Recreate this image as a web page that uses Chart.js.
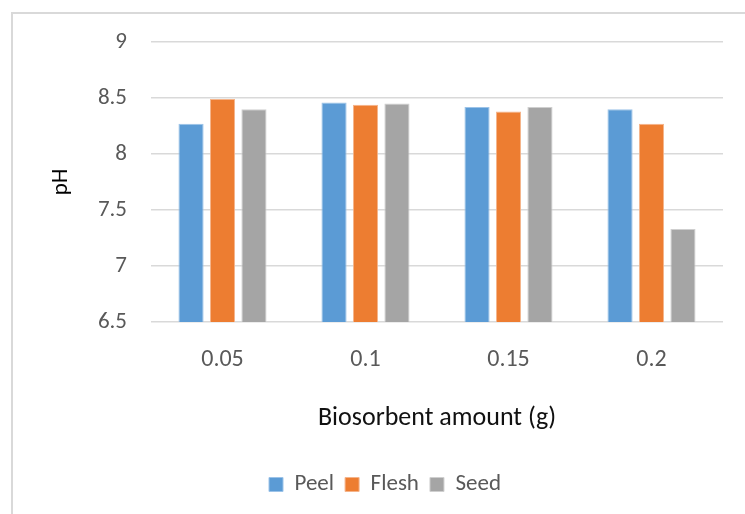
<!DOCTYPE html>
<html>
<head>
<meta charset="utf-8">
<script src="https://cdn.jsdelivr.net/npm/chart.js@4"></script>
<style>
  html, body { margin: 0; padding: 0; background: #fff; overflow: hidden; }
  #wrap { position: relative; width: 745px; height: 514px; }
  #frame {
    position: absolute; left: 11px; top: 12px; width: 800px; height: 600px;
    border: 2px solid #d9d9d9; box-sizing: border-box;
  }
  #chart { position: absolute; left: 0; top: 0; }
</style>
</head>
<body>
<div id="wrap">
  <div id="frame"></div>
  <canvas id="chart" width="745" height="514"></canvas>
</div>
<script>
// values
const amounts = ['0.05', '0.1', '0.15', '0.2'];
const peel = [8.27, 8.46, 8.42, 8.40];
const flesh = [8.49, 8.44, 8.38, 8.27];
const seed = [8.40, 8.45, 8.42, 7.33];
const yTicks = [6.5, 7, 7.5, 8, 8.5, 9];

const fontFamily = 'Carlito, Lato, sans-serif';

window.onload = function() {
	const ctx = document.getElementById('chart').getContext('2d');

	function makeSet(label, data, fill, edge) {
		return {
			label: label,
			data: data,
			backgroundColor: fill,
			borderColor: edge,
			borderWidth: 1,
			barPercentage: 0.8,
			categoryPercentage: 0.66
		};
	}

	new Chart(ctx, {
		type: 'bar',
		data: {
			labels: amounts,
			datasets: [
				makeSet('Peel', peel, '#5b9bd5', '#9cc3e8'),
				makeSet('Flesh', flesh, '#ed7d31', '#f5b48a'),
				makeSet('Seed', seed, '#a5a5a5', '#cfcfcf')
			]
		},
		options: {
			responsive: false,
			animation: false,
			layout: {
				padding: { left: 47, right: 22, top: 42, bottom: 8 }
			},
			plugins: {
				legend: {
					position: 'bottom',
					labels: {
						boxWidth: 14,
						boxHeight: 14,
						padding: 11,
						color: '#595959',
						font: { family: fontFamily, size: 23 }
					}
				},
				tooltip: { enabled: false }
			},
			scales: {
				y: {
					min: yTicks[0],
					max: yTicks[yTicks.length - 1],
					afterBuildTicks: function(scale) {
						scale.ticks = yTicks.map(function(v) { return { value: v }; });
					},
					afterFit: function(scale) {
						scale.width = 104;
					},
					border: { display: false },
					grid: { color: '#d9d9d9', lineWidth: 1.5, drawTicks: false },
					ticks: {
						padding: 24,
						color: '#595959',
						font: { family: fontFamily, size: 23 },
						callback: function(v) { return String(v); }
					},
					title: {
						display: true,
						text: 'pH',
						color: '#000',
						padding: 0,
						font: { family: fontFamily, size: 23 }
					}
				},
				x: {
					afterFit: function(scale) {
						scale.height = 140;
					},
					border: { display: false },
					grid: { display: false, drawTicks: false },
					ticks: {
						padding: 24,
						color: '#595959',
						font: { family: fontFamily, size: 24 }
					},
					title: {
						display: true,
						text: 'Biosorbent amount (g)',
						color: '#111',
						padding: { top: 18, bottom: 28 },
						font: { family: fontFamily, size: 26 }
					}
				}
			}
		}
	});
};
</script>
</body>
</html>
